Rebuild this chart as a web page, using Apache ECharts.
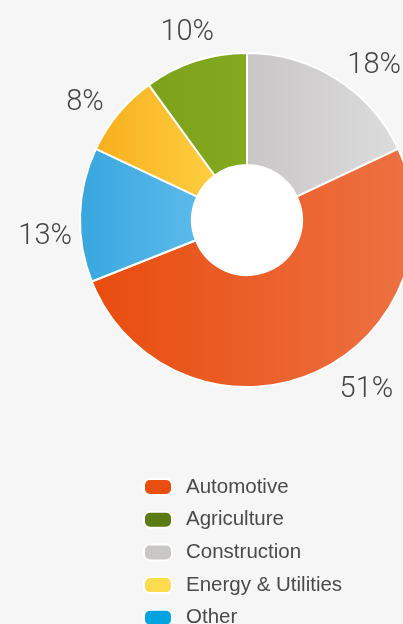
<!DOCTYPE html>
<html>
<head>
<meta charset="utf-8">
<script src="https://cdn.jsdelivr.net/npm/echarts@6/dist/echarts.min.js"></script>
<style>
  html, body { margin: 0; padding: 0; background: #f6f6f6; }
  #chart { width: 403px; height: 624px; }
</style>
</head>
<body>
<div id="chart"></div>
<script>
// slices in drawing order, clockwise from 12 o'clock
const sectors = ['Construction', 'Automotive', 'Other', 'Energy & Utilities', 'Agriculture']
const shares = [18, 51, 13, 8, 10]
const legendOrder = ['Automotive', 'Agriculture', 'Construction', 'Energy & Utilities', 'Other']

const sliceColors = {
  'Construction': ['#c8c6c6', '#dddcdc'],
  'Automotive': ['#e84c0e', '#ed7244'],
  'Other': ['#38a6df', '#5cbae9'],
  'Energy & Utilities': ['#f8ae1c', '#fdcf41'],
  'Agriculture': ['#7ca21b', '#84a81f'],
}
const legendColors = {
  'Automotive': '#e84e0f',
  'Agriculture': '#5b7b15',
  'Construction': '#c9c7c6',
  'Energy & Utilities': '#fedc50',
  'Other': '#00a3e0',
}

const cx = 247
const cy = 220
const labelR = 200
// small per-label nudges to sit like the original
const nudge = [[20, 15], [40, -14], [-2, 23], [-8, 10], [2, 3]]

const total = shares.reduce((a, b) => a + b, 0)
const midAngles = []
let acc = 0
shares.forEach((v) => {
  midAngles.push((acc + v / 2) / total * Math.PI * 2)
  acc += v
})

function grad(c) {
  return new echarts.graphic.LinearGradient(0, 0, 1, 0, [
    { offset: 0, color: c[0] },
    { offset: 1, color: c[1] },
  ])
}

const chart = echarts.init(document.getElementById('chart'))
chart.setOption({
  backgroundColor: '#f6f6f6',
  animation: false,
  legend: {
    orient: 'vertical',
    left: 138,
    top: 471.5,
    height: 200,
    itemWidth: 28,
    itemHeight: 16,
    itemGap: 11.7,
    icon: 'path://M6,0H22A6,6,0,0,1,28,6V10A6,6,0,0,1,22,16H6A6,6,0,0,1,0,10V6A6,6,0,0,1,6,0Z',
    selectedMode: false,
    data: legendOrder.map(n => ({ name: n, itemStyle: { color: legendColors[n] } })),
    textStyle: {
      fontFamily: 'Liberation Sans',
      fontSize: 20.5,
      color: '#4a4a4a',
      padding: [0, 0, 0, 9],
    },
  },
  series: [
    {
      type: 'pie',
      center: [cx, cy],
      radius: [55, 167],
      startAngle: 90,
      avoidLabelOverlap: false,
      silent: true,
      itemStyle: { borderColor: '#ffffff', borderWidth: 2 },
      label: {
        show: true,
        position: 'outside',
        formatter: '{d}%',
        fontFamily: 'Roboto',
        fontWeight: 300,
        fontSize: 29,
        color: '#444444',
        width: 90,
        overflow: 'none',
      },
      labelLine: { show: false },
      labelLayout: (p) => {
        const a = midAngles[p.dataIndex]
        const n = nudge[p.dataIndex]
        return {
          x: cx + labelR * Math.sin(a) + n[0],
          y: cy - labelR * Math.cos(a) + n[1],
          align: 'center',
          verticalAlign: 'middle',
        }
      },
      data: sectors.map((n, i) => ({
        name: n,
        value: shares[i],
        itemStyle: { color: grad(sliceColors[n]) },
      })),
    },
    {
      // white hole of the donut
      type: 'pie',
      center: [cx, cy],
      radius: [0, 55],
      silent: true,
      label: { show: false },
      labelLine: { show: false },
      itemStyle: { color: '#ffffff' },
      data: [{ value: 1 }],
    },
  ],
})
</script>
</body>
</html>
